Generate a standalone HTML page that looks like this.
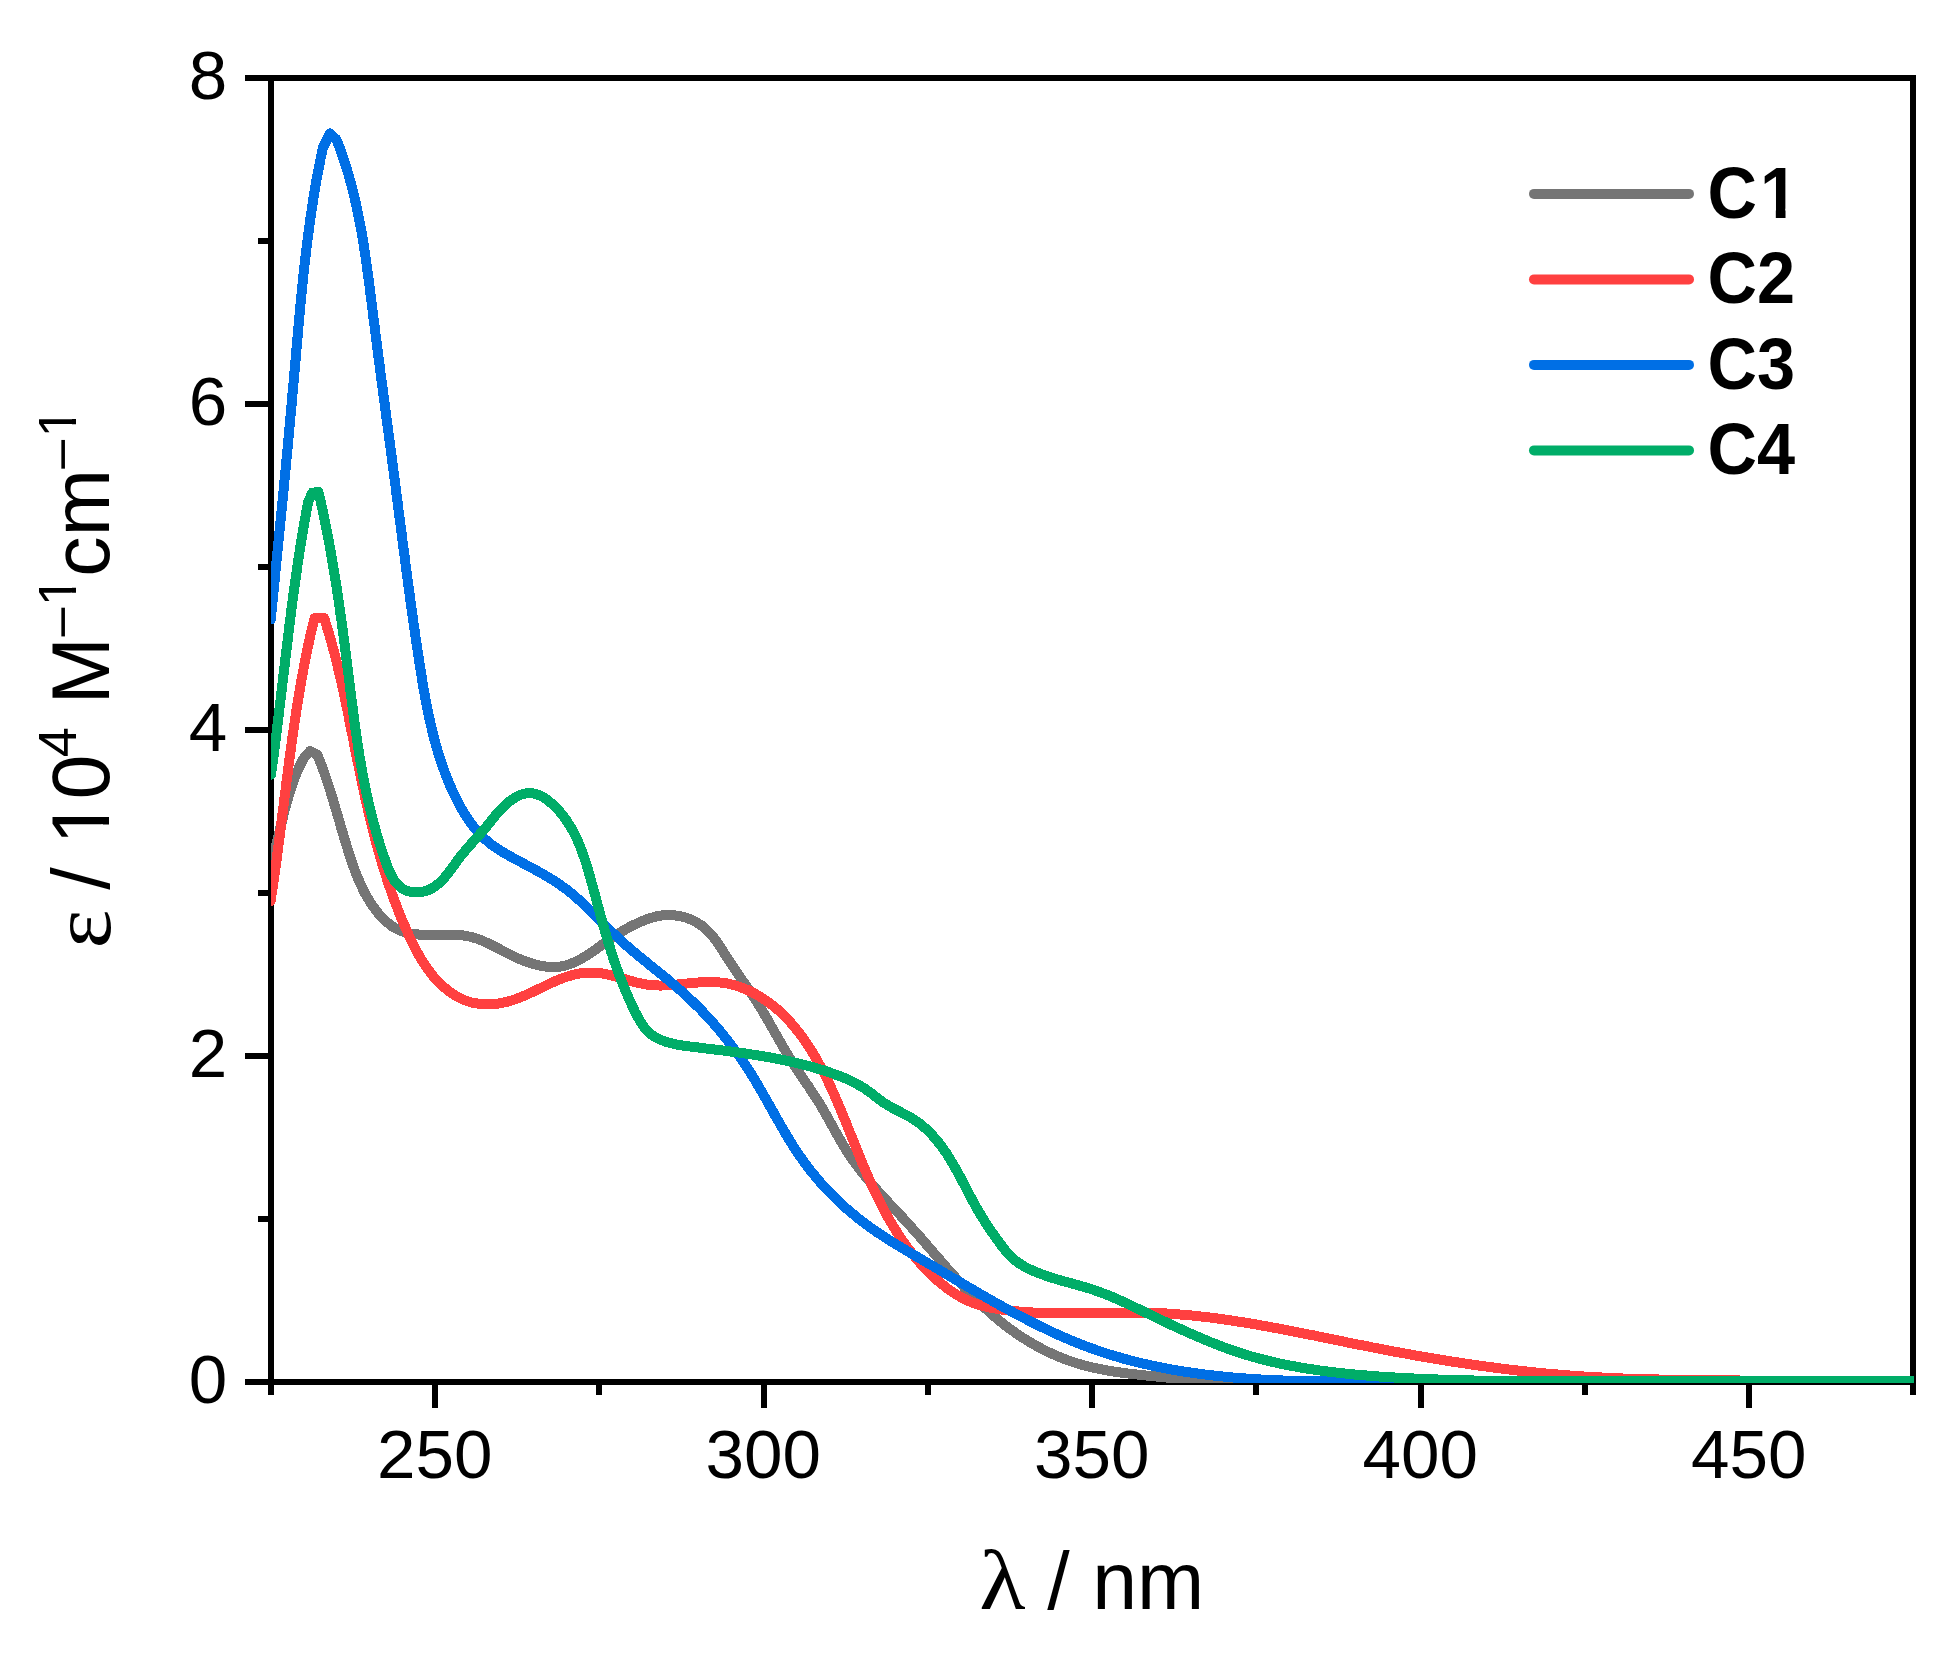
<!DOCTYPE html>
<html lang="en"><head><meta charset="utf-8"><title>UV-vis absorption spectra of C1-C4</title>
<style>html,body{margin:0;padding:0;background:#fff}body{width:1959px;height:1659px;overflow:hidden}svg{display:block}text{font-family:"Liberation Sans",Arial,Helvetica,sans-serif;fill:#000}.tk{font-size:69.2px}.ti{font-size:80.7px}.su{font-size:54px}.lg{font-size:68.5px;font-weight:bold}.sy{font-family:"Liberation Serif","Times New Roman",serif}.cv{fill:none;stroke-width:10;stroke-linejoin:round;stroke-linecap:round}</style></head><body>
<svg width="1959" height="1659" viewBox="0 0 1959 1659">
<rect width="1959" height="1659" fill="#fff"/>
<defs><clipPath id="oneR"><rect x="-2" y="-80.70" width="80.70" height="73.09"/><rect x="20.14" y="-8.39" width="7.43" height="9.18"/></clipPath><clipPath id="oneS"><rect x="-2" y="-54.00" width="54.00" height="48.91"/><rect x="13.43" y="-5.62" width="5.07" height="6.14"/></clipPath><clipPath id="oneB"><rect x="-2" y="-68.50" width="68.50" height="60.17"/><rect x="15.84" y="-9.00" width="9.70" height="9.67"/></clipPath><clipPath id="plot"><rect x="270.9" y="78.0" width="1643.1" height="1304.9"/></clipPath></defs>
<g stroke="#000" stroke-width="6" fill="none" stroke-linecap="butt" shape-rendering="crispEdges">
<rect x="271.0" y="78.0" width="1642.0" height="1304.0"/>
<line x1="244.8" y1="1382.0" x2="271.0" y2="1382.0"/>
<line x1="257.6" y1="1219.0" x2="271.0" y2="1219.0"/>
<line x1="244.8" y1="1056.0" x2="271.0" y2="1056.0"/>
<line x1="257.6" y1="893.0" x2="271.0" y2="893.0"/>
<line x1="244.8" y1="730.0" x2="271.0" y2="730.0"/>
<line x1="257.6" y1="567.0" x2="271.0" y2="567.0"/>
<line x1="244.8" y1="404.0" x2="271.0" y2="404.0"/>
<line x1="257.6" y1="241.0" x2="271.0" y2="241.0"/>
<line x1="244.8" y1="78.0" x2="271.0" y2="78.0"/>
<line x1="270.8" y1="1382.0" x2="270.8" y2="1394.6"/>
<line x1="435.0" y1="1382.0" x2="435.0" y2="1407.6"/>
<line x1="599.2" y1="1382.0" x2="599.2" y2="1394.6"/>
<line x1="763.5" y1="1382.0" x2="763.5" y2="1407.6"/>
<line x1="927.8" y1="1382.0" x2="927.8" y2="1394.6"/>
<line x1="1092.0" y1="1382.0" x2="1092.0" y2="1407.6"/>
<line x1="1256.2" y1="1382.0" x2="1256.2" y2="1394.6"/>
<line x1="1420.5" y1="1382.0" x2="1420.5" y2="1407.6"/>
<line x1="1584.8" y1="1382.0" x2="1584.8" y2="1394.6"/>
<line x1="1749.0" y1="1382.0" x2="1749.0" y2="1407.6"/>
<line x1="1913.2" y1="1382.0" x2="1913.2" y2="1394.6"/>
</g>
<g clip-path="url(#plot)" shape-rendering="crispEdges">
<path class="cv" stroke="#757575" d="M271.0,864.0 L271.9,861.0 L272.7,858.0 L273.6,854.9 L274.4,851.9 L275.2,848.8 L275.9,845.8 L276.7,842.7 L277.4,839.7 L278.2,836.6 L278.9,833.5 L279.7,830.5 L280.4,827.4 L281.2,824.3 L281.9,821.3 L282.7,818.2 L283.4,815.1 L284.2,812.1 L285.0,809.0 L285.8,806.0 L286.6,803.0 L287.5,799.9 L288.4,796.9 L289.3,793.9 L290.2,790.9 L291.2,787.9 L292.2,784.9 L293.2,782.0 L294.3,779.0 L295.5,776.1 L296.6,773.2 L297.9,770.3 L299.1,767.4 L300.5,764.6 L301.9,761.7 L303.3,758.9 L310.0,751.0 L317.1,754.5 L318.3,757.3 L319.4,760.1 L320.5,762.9 L321.6,765.7 L322.7,768.5 L323.7,771.3 L324.7,774.2 L325.7,777.0 L326.7,779.9 L327.6,782.7 L328.6,785.6 L329.5,788.4 L330.4,791.3 L331.3,794.2 L332.2,797.1 L333.1,799.9 L333.9,802.8 L334.8,805.7 L335.6,808.6 L336.5,811.5 L337.3,814.4 L338.2,817.2 L339.0,820.1 L339.9,823.0 L340.7,825.9 L341.5,828.8 L342.4,831.7 L343.2,834.6 L344.1,837.5 L345.0,840.3 L345.8,843.2 L346.7,846.1 L347.6,849.0 L348.5,851.8 L349.5,854.7 L350.4,857.6 L351.4,860.4 L352.3,863.3 L353.3,866.1 L354.3,868.9 L355.4,871.8 L356.5,874.6 L357.6,877.4 L358.8,880.1 L360.0,882.9 L361.2,885.6 L362.5,888.3 L363.8,891.0 L365.2,893.7 L366.7,896.3 L368.2,898.9 L369.8,901.5 L371.4,904.0 L373.1,906.5 L374.9,909.0 L376.8,911.4 L378.7,913.8 L380.7,916.1 L382.8,918.3 L385.0,920.5 L387.3,922.5 L389.6,924.4 L392.0,926.2 L394.5,927.7 L397.0,929.1 L399.7,930.3 L402.4,931.4 L405.1,932.2 L407.9,933.0 L410.8,933.5 L413.7,934.0 L416.6,934.3 L419.6,934.6 L422.6,934.7 L425.7,934.8 L428.8,934.9 L431.9,934.9 L435.0,934.8 L438.1,934.8 L441.2,934.7 L444.3,934.7 L447.4,934.6 L450.5,934.7 L453.6,934.7 L456.6,934.9 L459.6,935.1 L462.6,935.4 L465.6,935.8 L468.5,936.4 L471.4,937.0 L474.2,937.8 L477.0,938.7 L479.8,939.7 L482.5,940.8 L485.2,942.0 L487.9,943.2 L490.6,944.5 L493.3,945.9 L496.0,947.2 L498.6,948.6 L501.3,950.0 L504.0,951.4 L506.7,952.8 L509.4,954.2 L512.2,955.6 L514.9,956.9 L517.7,958.2 L520.5,959.4 L523.3,960.5 L526.2,961.6 L529.0,962.6 L531.9,963.5 L534.7,964.4 L537.6,965.1 L540.5,965.7 L543.3,966.2 L546.2,966.6 L549.1,966.9 L551.9,967.0 L554.8,967.0 L557.6,966.8 L560.5,966.5 L563.3,965.9 L566.1,965.3 L568.9,964.4 L571.6,963.4 L574.4,962.3 L577.1,961.0 L579.8,959.6 L582.5,958.1 L585.2,956.4 L587.8,954.8 L590.5,953.0 L593.1,951.2 L595.7,949.4 L598.3,947.5 L600.9,945.7 L603.4,943.8 L606.0,942.0 L608.5,940.2 L611.0,938.4 L613.5,936.7 L616.0,935.1 L618.5,933.5 L621.0,931.9 L623.5,930.5 L626.0,929.0 L628.5,927.6 L631.1,926.3 L633.7,925.0 L636.4,923.7 L639.1,922.5 L641.9,921.3 L644.7,920.1 L647.5,919.0 L650.4,918.0 L653.4,917.2 L656.3,916.4 L659.3,915.8 L662.3,915.4 L665.4,915.2 L668.4,915.1 L671.4,915.1 L674.4,915.4 L677.4,915.7 L680.3,916.2 L683.2,916.9 L686.1,917.7 L688.9,918.7 L691.6,919.8 L694.3,921.1 L696.9,922.5 L699.4,924.1 L701.8,925.7 L704.1,927.6 L706.3,929.5 L708.4,931.6 L710.4,933.8 L712.4,936.1 L714.3,938.4 L716.1,940.9 L717.9,943.4 L719.6,945.9 L721.3,948.5 L723.0,951.1 L724.6,953.7 L726.3,956.3 L727.9,958.9 L729.6,961.5 L731.3,964.1 L733.0,966.6 L734.7,969.1 L736.3,971.6 L738.0,974.1 L739.7,976.6 L741.4,979.0 L743.1,981.5 L744.8,983.9 L746.5,986.4 L748.2,988.9 L749.9,991.3 L751.5,993.8 L753.2,996.3 L754.8,998.7 L756.4,1001.2 L758.0,1003.8 L759.6,1006.3 L761.2,1008.9 L762.7,1011.4 L764.2,1014.0 L765.8,1016.6 L767.3,1019.2 L768.8,1021.8 L770.3,1024.5 L771.8,1027.1 L773.3,1029.7 L774.8,1032.4 L776.3,1035.0 L777.8,1037.6 L779.3,1040.3 L780.8,1042.9 L782.3,1045.5 L783.8,1048.1 L785.3,1050.8 L786.9,1053.3 L788.5,1055.9 L790.0,1058.5 L791.6,1061.0 L793.2,1063.6 L794.9,1066.1 L796.5,1068.6 L798.2,1071.1 L799.8,1073.6 L801.5,1076.1 L803.2,1078.6 L804.8,1081.0 L806.5,1083.5 L808.2,1086.0 L809.8,1088.5 L811.5,1091.0 L813.1,1093.5 L814.8,1096.0 L816.4,1098.5 L818.0,1101.0 L819.6,1103.6 L821.1,1106.2 L822.7,1108.8 L824.2,1111.4 L825.7,1114.0 L827.2,1116.7 L828.7,1119.3 L830.1,1122.0 L831.6,1124.6 L833.1,1127.3 L834.5,1129.9 L836.0,1132.6 L837.5,1135.3 L839.0,1137.9 L840.5,1140.5 L842.0,1143.1 L843.6,1145.7 L845.1,1148.3 L846.7,1150.9 L848.4,1153.4 L850.0,1155.9 L851.7,1158.4 L853.4,1160.8 L855.2,1163.2 L857.0,1165.7 L858.8,1168.0 L860.6,1170.4 L862.4,1172.7 L864.3,1175.1 L866.2,1177.4 L868.1,1179.7 L870.0,1182.0 L872.0,1184.2 L873.9,1186.5 L875.9,1188.7 L877.9,1191.0 L879.9,1193.2 L881.9,1195.4 L883.9,1197.6 L886.0,1199.8 L888.0,1202.0 L890.0,1204.2 L892.1,1206.4 L894.1,1208.6 L896.2,1210.8 L898.2,1213.0 L900.3,1215.2 L902.4,1217.4 L904.4,1219.7 L906.4,1221.9 L908.5,1224.1 L910.5,1226.3 L912.5,1228.6 L914.5,1230.8 L916.6,1233.1 L918.6,1235.3 L920.6,1237.6 L922.5,1239.9 L924.5,1242.2 L926.5,1244.5 L928.5,1246.7 L930.5,1249.0 L932.5,1251.3 L934.4,1253.6 L936.4,1255.9 L938.4,1258.2 L940.4,1260.5 L942.4,1262.8 L944.4,1265.1 L946.3,1267.3 L948.3,1269.6 L950.3,1271.9 L952.3,1274.1 L954.4,1276.4 L956.4,1278.6 L958.4,1280.9 L960.4,1283.1 L962.5,1285.3 L964.5,1287.5 L966.6,1289.7 L968.7,1291.9 L970.8,1294.1 L972.9,1296.2 L975.0,1298.4 L977.1,1300.5 L979.2,1302.6 L981.4,1304.7 L983.6,1306.7 L985.8,1308.8 L988.0,1310.8 L990.2,1312.8 L992.4,1314.8 L994.7,1316.7 L997.0,1318.7 L999.3,1320.6 L1001.6,1322.5 L1004.0,1324.3 L1006.3,1326.2 L1008.7,1328.0 L1011.1,1329.8 L1013.6,1331.5 L1016.0,1333.2 L1018.5,1334.9 L1021.0,1336.6 L1023.5,1338.2 L1026.0,1339.8 L1028.6,1341.4 L1031.2,1342.9 L1033.8,1344.4 L1036.4,1345.9 L1039.0,1347.3 L1041.7,1348.7 L1044.3,1350.1 L1047.0,1351.4 L1049.7,1352.7 L1052.4,1354.0 L1055.2,1355.2 L1057.9,1356.4 L1060.7,1357.5 L1063.5,1358.6 L1066.3,1359.7 L1069.1,1360.7 L1071.9,1361.7 L1074.8,1362.6 L1077.7,1363.5 L1080.5,1364.4 L1083.4,1365.2 L1086.3,1366.0 L1089.2,1366.7 L1092.2,1367.4 L1095.1,1368.1 L1098.0,1368.7 L1101.0,1369.3 L1104.0,1369.8 L1106.9,1370.4 L1109.9,1370.9 L1112.9,1371.4 L1115.9,1371.8 L1118.9,1372.3 L1121.9,1372.7 L1124.9,1373.1 L1127.9,1373.5 L1130.9,1373.8 L1133.9,1374.2 L1137.0,1374.5 L1140.0,1374.9 L1143.0,1375.2 L1146.0,1375.5 L1149.0,1375.8 L1152.0,1376.1 L1155.0,1376.4 L1158.0,1376.7 L1161.0,1377.0 L1164.0,1377.3 L1167.0,1377.6 L1170.0,1377.9 L1173.0,1378.2 L1176.0,1378.5 L1178.9,1378.8 L1181.9,1379.1 L1184.9,1379.4 L1187.9,1379.6 L1190.8,1379.9 L1193.8,1380.1 L1196.8,1380.4 L1199.8,1380.6 L1202.8,1380.8 L1205.7,1381.0 L1208.7,1381.2 L1211.7,1381.4 L1214.7,1381.5 L1217.7,1381.7 L1220.7,1381.8 L1223.7,1381.9 L1226.7,1382.0 L1229.7,1382.0 L1232.7,1382.1 L1235.7,1382.1 L1238.7,1382.1 L1241.7,1382.0 L1244.8,1382.0 L1247.8,1381.9 L1250.8,1381.8 L1253.9,1381.7 L1256.9,1381.5 L1260.0,1381.3 L1916.0,1381.3"/>
<path class="cv" stroke="#ff4040" d="M270.6,901.0 L271.1,898.0 L271.5,895.0 L272.0,892.0 L272.4,889.0 L272.9,886.0 L273.3,883.0 L273.8,880.0 L274.2,877.0 L274.6,873.9 L275.0,870.9 L275.5,867.9 L275.9,864.9 L276.3,861.9 L276.7,858.9 L277.1,855.9 L277.5,852.9 L277.9,849.8 L278.3,846.8 L278.7,843.8 L279.1,840.8 L279.5,837.8 L279.9,834.8 L280.2,831.7 L280.6,828.7 L281.0,825.7 L281.4,822.7 L281.8,819.7 L282.1,816.7 L282.5,813.6 L282.9,810.6 L283.3,807.6 L283.7,804.6 L284.0,801.6 L284.4,798.5 L284.8,795.5 L285.2,792.5 L285.6,789.5 L285.9,786.5 L286.3,783.4 L286.7,780.4 L287.1,777.4 L287.5,774.4 L287.9,771.4 L288.3,768.4 L288.6,765.3 L289.0,762.3 L289.4,759.3 L289.8,756.3 L290.2,753.3 L290.7,750.3 L291.1,747.2 L291.5,744.2 L291.9,741.2 L292.3,738.2 L292.7,735.2 L293.2,732.2 L293.6,729.2 L294.0,726.2 L294.5,723.2 L294.9,720.2 L295.4,717.2 L295.8,714.2 L296.3,711.1 L296.8,708.1 L297.2,705.1 L297.7,702.1 L298.2,699.1 L298.7,696.1 L299.2,693.1 L299.7,690.2 L300.2,687.2 L300.7,684.2 L301.3,681.2 L301.8,678.2 L302.3,675.2 L302.9,672.2 L303.5,669.2 L304.0,666.2 L304.6,663.3 L305.2,660.3 L305.8,657.3 L306.4,654.3 L307.0,651.3 L307.6,648.4 L308.2,645.4 L308.9,642.4 L309.5,639.5 L310.2,636.5 L310.8,633.5 L311.5,630.6 L312.2,627.6 L314.6,618.2 L324.2,618.2 L325.1,621.1 L326.0,623.9 L326.9,626.8 L327.8,629.7 L328.7,632.5 L329.5,635.4 L330.3,638.3 L331.2,641.2 L332.0,644.1 L332.7,647.0 L333.5,649.9 L334.3,652.8 L335.0,655.7 L335.8,658.6 L336.5,661.5 L337.2,664.4 L337.9,667.3 L338.6,670.3 L339.3,673.2 L340.0,676.1 L340.7,679.0 L341.3,682.0 L342.0,684.9 L342.6,687.8 L343.3,690.8 L343.9,693.7 L344.5,696.6 L345.1,699.6 L345.7,702.5 L346.4,705.5 L347.0,708.4 L347.6,711.3 L348.2,714.3 L348.8,717.2 L349.3,720.2 L349.9,723.1 L350.5,726.1 L351.1,729.0 L351.7,732.0 L352.3,734.9 L352.9,737.9 L353.5,740.8 L354.1,743.8 L354.6,746.7 L355.2,749.7 L355.8,752.6 L356.4,755.6 L357.0,758.5 L357.6,761.5 L358.2,764.4 L358.8,767.4 L359.4,770.3 L360.0,773.3 L360.6,776.2 L361.2,779.2 L361.9,782.1 L362.5,785.1 L363.1,788.0 L363.8,790.9 L364.4,793.9 L365.0,796.8 L365.7,799.7 L366.4,802.7 L367.0,805.6 L367.7,808.5 L368.4,811.5 L369.1,814.4 L369.7,817.3 L370.4,820.2 L371.2,823.1 L371.9,826.1 L372.6,829.0 L373.3,831.9 L374.1,834.8 L374.8,837.7 L375.6,840.6 L376.4,843.5 L377.2,846.4 L378.0,849.3 L378.8,852.1 L379.6,855.0 L380.4,857.9 L381.3,860.8 L382.1,863.7 L383.0,866.5 L383.9,869.4 L384.7,872.3 L385.7,875.1 L386.6,878.0 L387.5,880.8 L388.5,883.7 L389.4,886.5 L390.4,889.3 L391.4,892.2 L392.4,895.0 L393.4,897.8 L394.5,900.6 L395.5,903.4 L396.6,906.2 L397.7,909.0 L398.8,911.8 L399.9,914.6 L401.0,917.4 L402.2,920.2 L403.4,923.0 L404.6,925.7 L405.8,928.5 L407.0,931.2 L408.2,934.0 L409.5,936.7 L410.8,939.5 L412.1,942.2 L413.5,944.9 L414.8,947.6 L416.2,950.3 L417.7,953.0 L419.1,955.6 L420.7,958.2 L422.2,960.8 L423.8,963.4 L425.5,965.9 L427.2,968.4 L429.0,970.8 L430.8,973.2 L432.7,975.6 L434.6,977.9 L436.7,980.1 L438.8,982.3 L440.9,984.4 L443.2,986.5 L445.5,988.5 L447.8,990.4 L450.2,992.2 L452.7,993.9 L455.2,995.5 L457.8,997.0 L460.5,998.4 L463.1,999.6 L465.9,1000.6 L468.6,1001.6 L471.4,1002.4 L474.3,1003.0 L477.2,1003.5 L480.1,1003.9 L483.0,1004.2 L485.9,1004.3 L488.9,1004.3 L491.8,1004.2 L494.8,1003.9 L497.7,1003.6 L500.7,1003.1 L503.7,1002.5 L506.6,1001.9 L509.5,1001.1 L512.4,1000.2 L515.3,999.3 L518.1,998.2 L521.0,997.1 L523.8,995.9 L526.6,994.7 L529.4,993.4 L532.2,992.1 L535.0,990.8 L537.8,989.4 L540.5,988.1 L543.3,986.7 L546.1,985.4 L548.9,984.1 L551.7,982.8 L554.5,981.5 L557.3,980.3 L560.1,979.2 L562.9,978.1 L565.8,977.1 L568.7,976.2 L571.5,975.3 L574.4,974.6 L577.3,974.0 L580.3,973.4 L583.2,973.0 L586.1,972.7 L589.0,972.6 L592.0,972.5 L594.9,972.6 L597.8,972.9 L600.7,973.2 L603.6,973.7 L606.5,974.2 L609.3,974.9 L612.2,975.6 L615.1,976.4 L618.0,977.2 L620.9,978.0 L623.8,978.9 L626.7,979.7 L629.6,980.6 L632.5,981.4 L635.4,982.2 L638.3,982.9 L641.2,983.5 L644.1,984.1 L647.1,984.6 L650.1,985.0 L653.0,985.2 L656.0,985.4 L659.0,985.5 L662.0,985.5 L665.0,985.4 L668.1,985.2 L671.1,985.1 L674.1,984.8 L677.2,984.5 L680.2,984.3 L683.2,983.9 L686.3,983.6 L689.3,983.3 L692.3,983.0 L695.3,982.7 L698.4,982.5 L701.4,982.3 L704.4,982.1 L707.4,982.0 L710.3,982.0 L713.3,982.0 L716.3,982.1 L719.2,982.4 L722.1,982.7 L725.0,983.1 L727.9,983.6 L730.8,984.3 L733.6,985.0 L736.5,985.8 L739.3,986.7 L742.0,987.8 L744.8,988.8 L747.5,990.0 L750.2,991.3 L752.9,992.6 L755.5,994.0 L758.1,995.5 L760.6,997.0 L763.1,998.6 L765.6,1000.3 L768.1,1002.0 L770.5,1003.8 L772.8,1005.6 L775.1,1007.5 L777.4,1009.4 L779.6,1011.4 L781.8,1013.4 L783.9,1015.5 L786.0,1017.6 L788.1,1019.8 L790.1,1022.0 L792.1,1024.2 L794.0,1026.5 L795.9,1028.8 L797.8,1031.1 L799.6,1033.5 L801.4,1035.9 L803.2,1038.4 L805.0,1040.8 L806.7,1043.3 L808.3,1045.8 L810.0,1048.4 L811.6,1051.0 L813.2,1053.6 L814.7,1056.2 L816.3,1058.8 L817.8,1061.5 L819.2,1064.1 L820.7,1066.8 L822.1,1069.5 L823.5,1072.2 L824.9,1075.0 L826.3,1077.7 L827.6,1080.4 L828.9,1083.2 L830.2,1085.9 L831.5,1088.7 L832.8,1091.5 L834.0,1094.2 L835.2,1097.0 L836.4,1099.8 L837.6,1102.5 L838.8,1105.3 L840.0,1108.1 L841.2,1110.8 L842.3,1113.6 L843.4,1116.4 L844.6,1119.2 L845.7,1121.9 L846.8,1124.7 L847.9,1127.5 L849.0,1130.2 L850.1,1133.0 L851.3,1135.8 L852.4,1138.5 L853.5,1141.3 L854.6,1144.1 L855.7,1146.8 L856.8,1149.6 L857.9,1152.4 L859.0,1155.1 L860.1,1157.9 L861.2,1160.6 L862.4,1163.4 L863.5,1166.1 L864.7,1168.9 L865.8,1171.6 L867.0,1174.4 L868.2,1177.1 L869.4,1179.8 L870.6,1182.6 L871.9,1185.3 L873.1,1188.0 L874.4,1190.7 L875.7,1193.4 L877.0,1196.1 L878.3,1198.8 L879.6,1201.5 L881.0,1204.2 L882.4,1206.9 L883.8,1209.5 L885.2,1212.2 L886.7,1214.8 L888.1,1217.5 L889.6,1220.1 L891.1,1222.7 L892.7,1225.2 L894.2,1227.8 L895.8,1230.4 L897.4,1232.9 L899.1,1235.4 L900.7,1237.9 L902.4,1240.4 L904.2,1242.9 L905.9,1245.3 L907.7,1247.8 L909.5,1250.2 L911.4,1252.5 L913.2,1254.9 L915.1,1257.2 L917.1,1259.6 L919.0,1261.8 L921.0,1264.1 L923.1,1266.4 L925.2,1268.6 L927.3,1270.7 L929.4,1272.9 L931.6,1275.0 L933.8,1277.1 L936.0,1279.2 L938.3,1281.2 L940.6,1283.2 L943.0,1285.1 L945.4,1287.0 L947.8,1288.8 L950.3,1290.6 L952.8,1292.3 L955.3,1293.9 L957.8,1295.4 L960.4,1296.9 L963.1,1298.3 L965.7,1299.7 L968.4,1300.9 L971.2,1302.1 L973.9,1303.1 L976.7,1304.1 L979.6,1305.0 L982.4,1305.8 L985.3,1306.5 L988.2,1307.2 L991.1,1307.8 L994.0,1308.3 L997.0,1308.8 L999.9,1309.3 L1002.9,1309.7 L1005.8,1310.1 L1008.8,1310.5 L1011.8,1310.8 L1014.7,1311.1 L1017.7,1311.4 L1020.7,1311.7 L1023.7,1311.9 L1026.6,1312.1 L1029.6,1312.3 L1032.6,1312.5 L1035.6,1312.6 L1038.6,1312.8 L1041.6,1312.9 L1044.6,1313.0 L1047.6,1313.1 L1050.6,1313.1 L1053.6,1313.2 L1056.6,1313.2 L1059.6,1313.2 L1062.6,1313.2 L1065.6,1313.2 L1068.7,1313.2 L1071.7,1313.2 L1074.7,1313.2 L1077.7,1313.2 L1080.7,1313.1 L1083.7,1313.1 L1086.8,1313.0 L1089.8,1313.0 L1092.8,1312.9 L1095.8,1312.9 L1098.8,1312.8 L1101.9,1312.8 L1104.9,1312.7 L1107.9,1312.7 L1110.9,1312.6 L1113.9,1312.6 L1117.0,1312.5 L1120.0,1312.5 L1123.0,1312.5 L1126.0,1312.5 L1129.0,1312.5 L1132.0,1312.5 L1135.1,1312.5 L1138.1,1312.5 L1141.1,1312.5 L1144.1,1312.6 L1147.1,1312.7 L1150.1,1312.8 L1153.1,1312.9 L1156.1,1313.0 L1159.1,1313.1 L1162.1,1313.2 L1165.1,1313.4 L1168.1,1313.6 L1171.1,1313.8 L1174.1,1314.0 L1177.1,1314.2 L1180.1,1314.5 L1183.1,1314.7 L1186.1,1315.0 L1189.0,1315.2 L1192.0,1315.5 L1195.0,1315.8 L1198.0,1316.2 L1201.0,1316.5 L1203.9,1316.8 L1206.9,1317.2 L1209.9,1317.5 L1212.9,1317.9 L1215.8,1318.3 L1218.8,1318.7 L1221.8,1319.1 L1224.8,1319.5 L1227.7,1320.0 L1230.7,1320.4 L1233.7,1320.8 L1236.6,1321.3 L1239.6,1321.8 L1242.6,1322.2 L1245.5,1322.7 L1248.5,1323.2 L1251.4,1323.7 L1254.4,1324.2 L1257.4,1324.7 L1260.3,1325.2 L1263.3,1325.8 L1266.2,1326.3 L1269.2,1326.8 L1272.2,1327.4 L1275.1,1327.9 L1278.1,1328.5 L1281.0,1329.0 L1284.0,1329.6 L1286.9,1330.2 L1289.9,1330.7 L1292.8,1331.3 L1295.8,1331.9 L1298.7,1332.5 L1301.7,1333.1 L1304.6,1333.7 L1307.6,1334.3 L1310.5,1334.9 L1313.5,1335.4 L1316.5,1336.0 L1319.4,1336.6 L1322.4,1337.2 L1325.3,1337.8 L1328.3,1338.5 L1331.2,1339.1 L1334.2,1339.7 L1337.1,1340.3 L1340.1,1340.9 L1343.0,1341.5 L1346.0,1342.1 L1348.9,1342.7 L1351.9,1343.3 L1354.8,1343.9 L1357.8,1344.5 L1360.7,1345.1 L1363.7,1345.6 L1366.6,1346.2 L1369.6,1346.8 L1372.5,1347.4 L1375.5,1348.0 L1378.4,1348.5 L1381.4,1349.1 L1384.3,1349.7 L1387.3,1350.2 L1390.2,1350.8 L1393.2,1351.4 L1396.2,1351.9 L1399.1,1352.5 L1402.1,1353.0 L1405.0,1353.5 L1408.0,1354.1 L1410.9,1354.6 L1413.9,1355.1 L1416.9,1355.7 L1419.8,1356.2 L1422.8,1356.7 L1425.7,1357.2 L1428.7,1357.7 L1431.7,1358.2 L1434.6,1358.7 L1437.6,1359.2 L1440.6,1359.7 L1443.5,1360.2 L1446.5,1360.6 L1449.5,1361.1 L1452.4,1361.6 L1455.4,1362.0 L1458.4,1362.5 L1461.3,1363.0 L1464.3,1363.4 L1467.3,1363.8 L1470.2,1364.3 L1473.2,1364.7 L1476.2,1365.1 L1479.1,1365.6 L1482.1,1366.0 L1485.1,1366.4 L1488.1,1366.8 L1491.0,1367.2 L1494.0,1367.6 L1497.0,1368.0 L1500.0,1368.4 L1502.9,1368.7 L1505.9,1369.1 L1508.9,1369.5 L1511.9,1369.8 L1514.9,1370.2 L1517.8,1370.5 L1520.8,1370.9 L1523.8,1371.2 L1526.8,1371.5 L1529.8,1371.8 L1532.7,1372.2 L1535.7,1372.5 L1538.7,1372.8 L1541.7,1373.1 L1544.7,1373.4 L1547.7,1373.6 L1550.7,1373.9 L1553.7,1374.2 L1556.6,1374.4 L1559.6,1374.7 L1562.6,1374.9 L1565.6,1375.2 L1568.6,1375.4 L1571.6,1375.6 L1574.6,1375.9 L1577.6,1376.1 L1580.6,1376.3 L1583.6,1376.5 L1586.6,1376.7 L1589.6,1376.9 L1592.6,1377.0 L1595.6,1377.2 L1598.6,1377.4 L1601.6,1377.5 L1604.6,1377.7 L1607.6,1377.8 L1610.6,1378.0 L1613.6,1378.1 L1616.6,1378.2 L1619.6,1378.3 L1622.6,1378.5 L1625.6,1378.6 L1628.6,1378.7 L1631.6,1378.8 L1634.6,1378.9 L1637.7,1379.0 L1640.7,1379.1 L1643.7,1379.1 L1646.7,1379.2 L1649.7,1379.3 L1652.7,1379.4 L1655.7,1379.4 L1658.7,1379.5 L1661.7,1379.6 L1664.7,1379.6 L1667.8,1379.7 L1670.8,1379.7 L1673.8,1379.8 L1676.8,1379.8 L1679.8,1379.9 L1682.8,1379.9 L1685.8,1379.9 L1688.8,1380.0 L1691.8,1380.0 L1694.9,1380.1 L1697.9,1380.1 L1700.9,1380.1 L1703.9,1380.1 L1706.9,1380.2 L1709.9,1380.2 L1712.9,1380.2 L1715.9,1380.3 L1718.9,1380.3 L1721.9,1380.3 L1725.0,1380.3 L1728.0,1380.4 L1731.0,1380.4 L1734.0,1380.4 L1737.0,1380.4 L1740.0,1380.5 L1743.0,1380.5 L1746.0,1380.5 L1749.0,1380.5 L1752.0,1380.6 L1755.0,1380.6 L1758.0,1380.6 L1761.0,1380.7 L1764.0,1380.7 L1767.0,1380.7 L1770.0,1380.8 L1773.0,1380.8 L1776.0,1380.9 L1779.0,1380.9 L1782.0,1380.9 L1785.0,1381.0 L1788.0,1381.1 L1791.0,1381.1 L1794.0,1381.2 L1797.0,1381.2 L1800.0,1381.3 L1916.0,1381.3"/>
<path class="cv" stroke="#006fe5" d="M270.7,619.5 L271.0,616.5 L271.3,613.5 L271.6,610.5 L271.9,607.5 L272.2,604.4 L272.5,601.4 L272.8,598.4 L273.1,595.4 L273.4,592.4 L273.7,589.4 L274.0,586.4 L274.3,583.4 L274.6,580.4 L274.9,577.4 L275.2,574.4 L275.5,571.3 L275.8,568.3 L276.1,565.3 L276.4,562.3 L276.7,559.3 L277.0,556.3 L277.3,553.3 L277.6,550.3 L277.9,547.3 L278.2,544.3 L278.5,541.3 L278.8,538.2 L279.1,535.2 L279.4,532.2 L279.7,529.2 L280.0,526.2 L280.3,523.2 L280.6,520.2 L280.9,517.2 L281.2,514.2 L281.5,511.2 L281.8,508.2 L282.1,505.2 L282.4,502.1 L282.7,499.1 L283.0,496.1 L283.3,493.1 L283.6,490.1 L283.8,487.1 L284.1,484.1 L284.4,481.1 L284.7,478.1 L285.0,475.1 L285.3,472.1 L285.6,469.0 L285.9,466.0 L286.2,463.0 L286.4,460.0 L286.7,457.0 L287.0,454.0 L287.3,451.0 L287.6,448.0 L287.9,445.0 L288.1,442.0 L288.4,438.9 L288.7,435.9 L289.0,432.9 L289.3,429.9 L289.5,426.9 L289.8,423.9 L290.1,420.9 L290.4,417.9 L290.6,414.9 L290.9,411.8 L291.2,408.8 L291.5,405.8 L291.7,402.8 L292.0,399.8 L292.3,396.8 L292.5,393.8 L292.8,390.7 L293.1,387.7 L293.4,384.7 L293.6,381.7 L293.9,378.7 L294.1,375.7 L294.4,372.7 L294.7,369.6 L294.9,366.6 L295.2,363.6 L295.5,360.6 L295.7,357.6 L296.0,354.6 L296.2,351.5 L296.5,348.5 L296.8,345.5 L297.0,342.5 L297.3,339.5 L297.6,336.5 L297.8,333.4 L298.1,330.4 L298.4,327.4 L298.6,324.4 L298.9,321.4 L299.2,318.4 L299.5,315.4 L299.7,312.3 L300.0,309.3 L300.3,306.3 L300.6,303.3 L300.9,300.3 L301.2,297.3 L301.5,294.3 L301.8,291.3 L302.1,288.3 L302.4,285.2 L302.7,282.2 L303.0,279.2 L303.3,276.2 L303.6,273.2 L304.0,270.2 L304.3,267.2 L304.6,264.2 L305.0,261.2 L305.3,258.2 L305.7,255.2 L306.0,252.2 L306.4,249.2 L306.7,246.2 L307.1,243.2 L307.5,240.2 L307.9,237.2 L308.3,234.2 L308.7,231.2 L309.1,228.2 L309.5,225.2 L309.9,222.2 L310.3,219.3 L310.7,216.3 L311.2,213.3 L311.6,210.3 L312.0,207.3 L312.5,204.3 L313.0,201.4 L313.4,198.4 L313.9,195.4 L314.4,192.4 L314.9,189.5 L315.4,186.5 L315.9,183.5 L316.4,180.5 L317.0,177.6 L317.5,174.6 L318.1,171.6 L318.6,168.7 L319.2,165.7 L319.8,162.8 L320.4,159.8 L320.9,156.9 L321.6,153.9 L322.2,150.9 L322.8,148.0 L329.9,133.3 L336.5,139.5 L337.6,142.3 L338.7,145.1 L339.7,147.9 L340.8,150.7 L341.8,153.6 L342.7,156.4 L343.7,159.2 L344.6,162.1 L345.6,164.9 L346.4,167.8 L347.3,170.7 L348.2,173.5 L349.0,176.4 L349.8,179.3 L350.6,182.2 L351.4,185.0 L352.1,187.9 L352.9,190.8 L353.6,193.7 L354.3,196.6 L354.9,199.5 L355.6,202.5 L356.3,205.4 L356.9,208.3 L357.5,211.2 L358.1,214.2 L358.7,217.1 L359.3,220.0 L359.9,223.0 L360.4,225.9 L360.9,228.9 L361.5,231.8 L362.0,234.8 L362.5,237.7 L363.0,240.7 L363.5,243.7 L363.9,246.6 L364.4,249.6 L364.9,252.6 L365.3,255.5 L365.7,258.5 L366.2,261.5 L366.6,264.5 L367.0,267.5 L367.4,270.4 L367.8,273.4 L368.2,276.4 L368.6,279.4 L369.0,282.4 L369.4,285.4 L369.8,288.3 L370.2,291.3 L370.5,294.3 L370.9,297.3 L371.3,300.3 L371.7,303.3 L372.0,306.3 L372.4,309.3 L372.8,312.3 L373.2,315.3 L373.5,318.3 L373.9,321.2 L374.3,324.2 L374.7,327.2 L375.0,330.2 L375.4,333.2 L375.8,336.2 L376.2,339.2 L376.6,342.2 L376.9,345.1 L377.3,348.1 L377.7,351.1 L378.1,354.1 L378.5,357.1 L378.9,360.1 L379.3,363.1 L379.7,366.0 L380.0,369.0 L380.4,372.0 L380.8,375.0 L381.2,378.0 L381.6,381.0 L382.0,383.9 L382.4,386.9 L382.8,389.9 L383.2,392.9 L383.6,395.9 L384.0,398.9 L384.4,401.8 L384.8,404.8 L385.1,407.8 L385.5,410.8 L385.9,413.8 L386.3,416.7 L386.7,419.7 L387.1,422.7 L387.5,425.7 L387.9,428.6 L388.3,431.6 L388.7,434.6 L389.1,437.6 L389.5,440.6 L389.9,443.5 L390.3,446.5 L390.7,449.5 L391.1,452.5 L391.5,455.4 L391.9,458.4 L392.2,461.4 L392.6,464.4 L393.0,467.3 L393.4,470.3 L393.8,473.3 L394.2,476.3 L394.6,479.2 L395.0,482.2 L395.4,485.2 L395.7,488.2 L396.1,491.1 L396.5,494.1 L396.9,497.1 L397.3,500.1 L397.7,503.0 L398.1,506.0 L398.4,509.0 L398.8,511.9 L399.2,514.9 L399.6,517.9 L400.0,520.9 L400.4,523.8 L400.7,526.8 L401.1,529.8 L401.5,532.8 L401.9,535.7 L402.3,538.7 L402.6,541.7 L403.0,544.6 L403.4,547.6 L403.8,550.6 L404.2,553.6 L404.6,556.5 L405.0,559.5 L405.3,562.5 L405.7,565.5 L406.1,568.4 L406.5,571.4 L406.9,574.4 L407.3,577.4 L407.7,580.3 L408.1,583.3 L408.5,586.3 L408.9,589.3 L409.3,592.2 L409.7,595.2 L410.1,598.2 L410.5,601.2 L410.9,604.1 L411.3,607.1 L411.7,610.1 L412.1,613.1 L412.6,616.1 L413.0,619.0 L413.4,622.0 L413.8,625.0 L414.3,628.0 L414.7,631.0 L415.1,633.9 L415.5,636.9 L416.0,639.9 L416.4,642.9 L416.9,645.9 L417.3,648.8 L417.8,651.8 L418.2,654.8 L418.7,657.8 L419.1,660.8 L419.6,663.8 L420.0,666.8 L420.5,669.7 L421.0,672.7 L421.5,675.7 L421.9,678.7 L422.4,681.7 L422.9,684.7 L423.4,687.6 L424.0,690.6 L424.5,693.6 L425.0,696.6 L425.6,699.5 L426.1,702.5 L426.7,705.5 L427.3,708.4 L427.9,711.4 L428.5,714.3 L429.1,717.3 L429.8,720.2 L430.4,723.2 L431.1,726.1 L431.8,729.0 L432.5,732.0 L433.2,734.9 L434.0,737.8 L434.7,740.7 L435.5,743.6 L436.3,746.5 L437.2,749.4 L438.0,752.2 L438.9,755.1 L439.8,758.0 L440.7,760.8 L441.7,763.7 L442.7,766.5 L443.7,769.3 L444.7,772.1 L445.8,774.9 L446.9,777.7 L448.0,780.5 L449.1,783.3 L450.3,786.0 L451.5,788.8 L452.8,791.5 L454.0,794.2 L455.3,796.9 L456.7,799.6 L458.1,802.3 L459.5,805.0 L460.9,807.6 L462.4,810.2 L464.0,812.8 L465.5,815.3 L467.2,817.9 L468.8,820.3 L470.6,822.8 L472.3,825.1 L474.2,827.5 L476.0,829.8 L478.0,832.0 L480.0,834.2 L482.0,836.3 L484.1,838.3 L486.3,840.3 L488.5,842.2 L490.8,844.0 L493.2,845.8 L495.6,847.5 L498.1,849.1 L500.6,850.7 L503.1,852.3 L505.7,853.8 L508.3,855.3 L510.9,856.7 L513.6,858.2 L516.2,859.6 L518.9,861.0 L521.6,862.4 L524.2,863.9 L526.9,865.3 L529.6,866.7 L532.2,868.1 L534.9,869.6 L537.5,871.0 L540.1,872.5 L542.8,874.0 L545.4,875.5 L547.9,877.0 L550.5,878.6 L553.1,880.2 L555.6,881.8 L558.1,883.5 L560.5,885.1 L563.0,886.9 L565.4,888.6 L567.8,890.4 L570.1,892.3 L572.4,894.2 L574.7,896.1 L577.0,898.1 L579.2,900.1 L581.4,902.1 L583.6,904.1 L585.8,906.2 L588.0,908.2 L590.2,910.3 L592.3,912.5 L594.4,914.6 L596.6,916.7 L598.7,918.8 L600.8,921.0 L603.0,923.1 L605.1,925.3 L607.2,927.4 L609.4,929.5 L611.5,931.6 L613.7,933.8 L615.9,935.8 L618.0,937.9 L620.2,940.0 L622.5,942.0 L624.7,944.0 L627.0,946.0 L629.2,948.0 L631.5,949.9 L633.8,951.9 L636.1,953.8 L638.4,955.7 L640.7,957.6 L643.1,959.6 L645.4,961.4 L647.7,963.3 L650.1,965.2 L652.4,967.1 L654.7,969.0 L657.1,970.9 L659.4,972.8 L661.7,974.6 L664.1,976.5 L666.4,978.4 L668.7,980.4 L671.0,982.3 L673.3,984.2 L675.6,986.1 L677.8,988.1 L680.1,990.1 L682.3,992.1 L684.6,994.1 L686.8,996.1 L689.0,998.1 L691.1,1000.2 L693.3,1002.3 L695.4,1004.4 L697.6,1006.5 L699.7,1008.6 L701.8,1010.7 L703.8,1012.9 L705.9,1015.1 L707.9,1017.3 L710.0,1019.5 L712.0,1021.7 L714.0,1024.0 L715.9,1026.2 L717.9,1028.5 L719.8,1030.8 L721.7,1033.1 L723.6,1035.4 L725.5,1037.8 L727.4,1040.1 L729.2,1042.5 L731.0,1044.9 L732.8,1047.3 L734.6,1049.7 L736.4,1052.1 L738.1,1054.5 L739.9,1057.0 L741.6,1059.4 L743.3,1061.9 L745.0,1064.4 L746.6,1066.9 L748.2,1069.4 L749.9,1072.0 L751.5,1074.5 L753.0,1077.1 L754.6,1079.6 L756.1,1082.2 L757.7,1084.8 L759.2,1087.4 L760.7,1090.0 L762.2,1092.6 L763.7,1095.2 L765.2,1097.8 L766.7,1100.4 L768.1,1103.1 L769.6,1105.7 L771.1,1108.3 L772.6,1110.9 L774.0,1113.6 L775.5,1116.2 L777.0,1118.8 L778.5,1121.4 L780.0,1124.0 L781.5,1126.6 L783.0,1129.2 L784.5,1131.8 L786.0,1134.4 L787.6,1137.0 L789.1,1139.5 L790.7,1142.1 L792.3,1144.6 L793.9,1147.2 L795.6,1149.7 L797.2,1152.2 L798.9,1154.7 L800.6,1157.2 L802.3,1159.6 L804.1,1162.1 L805.9,1164.5 L807.7,1166.9 L809.5,1169.3 L811.4,1171.6 L813.3,1174.0 L815.2,1176.3 L817.1,1178.6 L819.1,1180.9 L821.1,1183.2 L823.1,1185.4 L825.1,1187.6 L827.2,1189.8 L829.3,1192.0 L831.4,1194.2 L833.5,1196.3 L835.6,1198.4 L837.8,1200.5 L840.0,1202.6 L842.2,1204.6 L844.4,1206.7 L846.7,1208.7 L849.0,1210.6 L851.2,1212.6 L853.5,1214.5 L855.9,1216.4 L858.2,1218.3 L860.6,1220.2 L862.9,1222.0 L865.3,1223.8 L867.7,1225.6 L870.2,1227.3 L872.6,1229.1 L875.1,1230.8 L877.5,1232.5 L880.0,1234.1 L882.5,1235.8 L885.0,1237.4 L887.5,1239.0 L890.0,1240.6 L892.6,1242.2 L895.1,1243.8 L897.6,1245.3 L900.2,1246.9 L902.8,1248.4 L905.3,1249.9 L907.9,1251.5 L910.5,1253.0 L913.1,1254.5 L915.6,1256.0 L918.2,1257.5 L920.8,1259.0 L923.4,1260.6 L926.0,1262.1 L928.6,1263.6 L931.2,1265.1 L933.8,1266.6 L936.4,1268.2 L939.0,1269.7 L941.6,1271.2 L944.1,1272.8 L946.7,1274.3 L949.3,1275.8 L951.9,1277.4 L954.5,1278.9 L957.1,1280.4 L959.7,1282.0 L962.3,1283.5 L964.9,1285.0 L967.5,1286.6 L970.1,1288.1 L972.7,1289.6 L975.3,1291.1 L978.0,1292.7 L980.6,1294.2 L983.2,1295.7 L985.8,1297.2 L988.4,1298.7 L991.1,1300.2 L993.7,1301.7 L996.3,1303.1 L998.9,1304.6 L1001.6,1306.1 L1004.2,1307.5 L1006.9,1309.0 L1009.5,1310.4 L1012.2,1311.9 L1014.8,1313.3 L1017.5,1314.7 L1020.1,1316.1 L1022.8,1317.5 L1025.5,1318.9 L1028.1,1320.3 L1030.8,1321.7 L1033.5,1323.0 L1036.2,1324.4 L1038.9,1325.7 L1041.6,1327.0 L1044.3,1328.3 L1047.0,1329.6 L1049.7,1330.9 L1052.4,1332.2 L1055.1,1333.4 L1057.9,1334.7 L1060.6,1335.9 L1063.3,1337.1 L1066.1,1338.3 L1068.8,1339.4 L1071.6,1340.6 L1074.4,1341.7 L1077.1,1342.9 L1079.9,1344.0 L1082.7,1345.1 L1085.5,1346.1 L1088.3,1347.2 L1091.1,1348.2 L1093.9,1349.2 L1096.7,1350.2 L1099.6,1351.2 L1102.4,1352.1 L1105.2,1353.1 L1108.1,1354.0 L1110.9,1354.9 L1113.8,1355.7 L1116.7,1356.6 L1119.6,1357.4 L1122.4,1358.3 L1125.3,1359.1 L1128.2,1359.8 L1131.1,1360.6 L1134.0,1361.4 L1136.9,1362.1 L1139.8,1362.8 L1142.8,1363.5 L1145.7,1364.2 L1148.6,1364.8 L1151.5,1365.5 L1154.5,1366.1 L1157.4,1366.7 L1160.4,1367.3 L1163.3,1367.9 L1166.3,1368.5 L1169.2,1369.0 L1172.2,1369.6 L1175.2,1370.1 L1178.1,1370.6 L1181.1,1371.1 L1184.1,1371.6 L1187.1,1372.0 L1190.1,1372.5 L1193.0,1372.9 L1196.0,1373.3 L1199.0,1373.7 L1202.0,1374.1 L1205.0,1374.5 L1208.0,1374.9 L1211.0,1375.2 L1214.0,1375.6 L1217.0,1375.9 L1220.0,1376.2 L1223.0,1376.5 L1226.0,1376.8 L1229.0,1377.1 L1232.0,1377.4 L1235.1,1377.7 L1238.1,1377.9 L1241.1,1378.2 L1244.1,1378.4 L1247.1,1378.6 L1250.1,1378.8 L1253.1,1379.0 L1256.1,1379.2 L1259.2,1379.4 L1262.2,1379.6 L1265.2,1379.7 L1268.2,1379.9 L1271.2,1380.0 L1274.2,1380.1 L1277.2,1380.3 L1280.2,1380.4 L1283.2,1380.5 L1286.2,1380.6 L1289.2,1380.7 L1292.2,1380.8 L1295.2,1380.9 L1298.2,1380.9 L1301.2,1381.0 L1304.2,1381.1 L1307.2,1381.1 L1310.2,1381.1 L1313.2,1381.2 L1316.2,1381.2 L1319.2,1381.2 L1322.1,1381.3 L1325.1,1381.3 L1328.1,1381.3 L1331.0,1381.3 L1334.0,1381.3 L1916.0,1381.3"/>
<path class="cv" stroke="#00ad68" d="M271.0,774.7 L271.4,771.7 L271.8,768.7 L272.2,765.6 L272.7,762.6 L273.1,759.6 L273.5,756.6 L273.9,753.5 L274.3,750.5 L274.7,747.5 L275.0,744.5 L275.4,741.4 L275.8,738.4 L276.2,735.4 L276.6,732.4 L277.0,729.3 L277.3,726.3 L277.7,723.3 L278.1,720.2 L278.4,717.2 L278.8,714.2 L279.2,711.1 L279.5,708.1 L279.9,705.1 L280.3,702.0 L280.6,699.0 L281.0,696.0 L281.3,693.0 L281.7,689.9 L282.1,686.9 L282.4,683.9 L282.8,680.8 L283.1,677.8 L283.5,674.8 L283.9,671.7 L284.2,668.7 L284.6,665.7 L284.9,662.6 L285.3,659.6 L285.6,656.6 L286.0,653.5 L286.4,650.5 L286.7,647.5 L287.1,644.4 L287.5,641.4 L287.8,638.4 L288.2,635.3 L288.6,632.3 L289.0,629.3 L289.3,626.3 L289.7,623.2 L290.1,620.2 L290.5,617.2 L290.8,614.1 L291.2,611.1 L291.6,608.1 L292.0,605.1 L292.4,602.0 L292.8,599.0 L293.2,596.0 L293.6,593.0 L294.0,589.9 L294.4,586.9 L294.9,583.9 L295.3,580.9 L295.7,577.8 L296.1,574.8 L296.6,571.8 L297.0,568.8 L297.4,565.8 L297.9,562.7 L298.3,559.7 L298.8,556.7 L299.3,553.7 L299.7,550.7 L300.2,547.7 L300.7,544.7 L301.2,541.6 L301.6,538.6 L302.1,535.6 L302.6,532.6 L303.2,529.6 L303.7,526.6 L304.2,523.6 L304.7,520.6 L305.2,517.6 L305.8,514.6 L306.3,511.6 L306.9,508.6 L307.4,505.6 L308.0,502.6 L312.3,492.6 L318.5,492.2 L319.2,495.1 L319.9,498.0 L320.5,500.9 L321.2,503.8 L321.8,506.7 L322.5,509.7 L323.1,512.6 L323.7,515.5 L324.3,518.4 L324.9,521.4 L325.5,524.3 L326.1,527.3 L326.7,530.2 L327.3,533.2 L327.9,536.1 L328.4,539.1 L329.0,542.0 L329.5,545.0 L330.0,547.9 L330.6,550.9 L331.1,553.9 L331.6,556.8 L332.1,559.8 L332.6,562.8 L333.1,565.8 L333.6,568.7 L334.1,571.7 L334.6,574.7 L335.1,577.7 L335.6,580.7 L336.0,583.6 L336.5,586.6 L336.9,589.6 L337.4,592.6 L337.8,595.6 L338.3,598.6 L338.7,601.6 L339.2,604.6 L339.6,607.6 L340.0,610.5 L340.4,613.5 L340.9,616.5 L341.3,619.5 L341.7,622.5 L342.1,625.5 L342.5,628.5 L342.9,631.5 L343.3,634.5 L343.7,637.5 L344.1,640.5 L344.5,643.4 L344.9,646.4 L345.3,649.4 L345.6,652.4 L346.0,655.4 L346.4,658.4 L346.8,661.4 L347.2,664.3 L347.5,667.3 L347.9,670.3 L348.3,673.3 L348.7,676.2 L349.0,679.2 L349.4,682.2 L349.8,685.2 L350.1,688.1 L350.5,691.1 L350.9,694.0 L351.3,697.0 L351.6,700.0 L352.0,702.9 L352.4,705.9 L352.8,708.8 L353.2,711.8 L353.5,714.7 L353.9,717.7 L354.3,720.6 L354.7,723.6 L355.1,726.5 L355.5,729.5 L356.0,732.4 L356.4,735.3 L356.8,738.3 L357.2,741.2 L357.7,744.2 L358.1,747.1 L358.6,750.0 L359.1,753.0 L359.5,755.9 L360.0,758.9 L360.5,761.8 L361.0,764.7 L361.5,767.7 L362.1,770.6 L362.6,773.5 L363.1,776.5 L363.7,779.4 L364.3,782.3 L364.9,785.3 L365.5,788.2 L366.1,791.2 L366.7,794.1 L367.3,797.0 L368.0,800.0 L368.7,802.9 L369.3,805.9 L370.0,808.8 L370.8,811.8 L371.5,814.7 L372.2,817.6 L373.0,820.6 L373.8,823.5 L374.6,826.5 L375.4,829.4 L376.3,832.4 L377.1,835.4 L378.0,838.3 L378.9,841.3 L379.8,844.2 L380.8,847.2 L381.7,850.2 L382.7,853.1 L383.7,856.1 L384.8,859.1 L385.8,862.0 L386.9,865.0 L388.0,867.9 L389.2,870.8 L390.5,873.5 L391.9,876.2 L393.3,878.7 L394.9,881.1 L396.6,883.3 L398.4,885.3 L400.4,887.1 L402.6,888.7 L405.0,890.0 L407.5,891.0 L410.2,891.7 L413.1,892.2 L416.0,892.3 L419.0,892.2 L422.0,891.8 L424.9,891.2 L427.8,890.3 L430.5,889.1 L433.1,887.7 L435.6,886.0 L437.9,884.2 L440.1,882.2 L442.3,880.0 L444.4,877.8 L446.4,875.4 L448.3,872.9 L450.2,870.4 L452.1,867.8 L454.0,865.3 L455.8,862.7 L457.7,860.2 L459.5,857.7 L461.4,855.3 L463.4,853.0 L465.3,850.7 L467.2,848.4 L469.2,846.2 L471.1,844.0 L473.1,841.8 L475.0,839.6 L477.0,837.5 L478.9,835.3 L480.9,833.1 L482.8,830.9 L484.7,828.7 L486.6,826.5 L488.5,824.2 L490.3,821.9 L492.2,819.5 L494.1,817.2 L496.0,814.9 L498.0,812.5 L500.0,810.3 L502.2,808.0 L504.4,805.8 L506.8,803.7 L509.3,801.6 L511.9,799.7 L514.6,797.9 L517.4,796.3 L520.2,795.0 L523.0,794.0 L525.8,793.4 L528.7,793.1 L531.4,793.2 L534.2,793.6 L536.9,794.3 L539.5,795.4 L542.1,796.6 L544.6,798.1 L547.1,799.8 L549.5,801.7 L551.8,803.6 L554.0,805.7 L556.2,807.8 L558.3,810.0 L560.2,812.3 L562.1,814.6 L564.0,816.9 L565.7,819.3 L567.4,821.8 L569.0,824.3 L570.5,826.8 L572.0,829.4 L573.4,832.0 L574.8,834.6 L576.1,837.3 L577.4,840.0 L578.6,842.8 L579.7,845.5 L580.8,848.3 L581.9,851.2 L582.9,854.0 L583.9,856.9 L584.9,859.8 L585.9,862.7 L586.8,865.6 L587.7,868.5 L588.5,871.4 L589.4,874.4 L590.2,877.3 L591.0,880.3 L591.8,883.2 L592.6,886.1 L593.4,889.1 L594.2,892.0 L595.0,894.9 L595.8,897.9 L596.6,900.8 L597.3,903.7 L598.1,906.6 L598.9,909.5 L599.7,912.4 L600.5,915.3 L601.3,918.2 L602.1,921.1 L602.9,923.9 L603.7,926.8 L604.5,929.7 L605.4,932.5 L606.2,935.4 L607.1,938.3 L607.9,941.1 L608.8,943.9 L609.7,946.8 L610.5,949.6 L611.4,952.5 L612.4,955.3 L613.3,958.1 L614.2,960.9 L615.2,963.7 L616.2,966.6 L617.2,969.4 L618.2,972.2 L619.2,975.0 L620.3,977.8 L621.4,980.6 L622.5,983.4 L623.6,986.1 L624.7,988.9 L625.9,991.7 L627.1,994.5 L628.3,997.3 L629.5,1000.0 L630.8,1002.8 L632.1,1005.6 L633.4,1008.3 L634.7,1011.1 L636.1,1013.8 L637.5,1016.6 L639.0,1019.3 L640.5,1021.9 L642.2,1024.4 L643.9,1026.8 L645.7,1029.1 L647.6,1031.2 L649.7,1033.2 L651.9,1034.9 L654.2,1036.5 L656.7,1037.9 L659.2,1039.2 L661.8,1040.3 L664.6,1041.3 L667.3,1042.2 L670.2,1043.0 L673.1,1043.7 L676.1,1044.4 L679.1,1044.9 L682.2,1045.4 L685.3,1045.9 L688.4,1046.3 L691.5,1046.7 L694.6,1047.1 L697.7,1047.4 L700.7,1047.8 L703.8,1048.2 L706.9,1048.6 L709.9,1048.9 L713.0,1049.3 L716.0,1049.7 L719.1,1050.1 L722.1,1050.4 L725.1,1050.8 L728.1,1051.2 L731.1,1051.6 L734.1,1052.0 L737.1,1052.4 L740.1,1052.8 L743.1,1053.2 L746.1,1053.6 L749.0,1054.1 L752.0,1054.5 L755.0,1055.0 L757.9,1055.4 L760.9,1055.9 L763.8,1056.4 L766.7,1056.9 L769.7,1057.4 L772.6,1057.9 L775.5,1058.5 L778.4,1059.0 L781.3,1059.6 L784.2,1060.2 L787.1,1060.8 L790.0,1061.5 L792.9,1062.1 L795.8,1062.8 L798.7,1063.5 L801.6,1064.2 L804.5,1064.9 L807.3,1065.7 L810.2,1066.5 L813.1,1067.3 L815.9,1068.1 L818.8,1069.0 L821.7,1069.8 L824.5,1070.8 L827.4,1071.7 L830.2,1072.7 L833.1,1073.7 L835.9,1074.7 L838.8,1075.8 L841.6,1076.9 L844.4,1078.0 L847.2,1079.2 L849.9,1080.5 L852.6,1081.8 L855.3,1083.2 L858.0,1084.6 L860.6,1086.1 L863.2,1087.6 L865.7,1089.3 L868.2,1091.0 L870.6,1092.8 L873.0,1094.6 L875.3,1096.4 L877.7,1098.3 L880.1,1100.1 L882.5,1101.9 L885.0,1103.5 L887.5,1105.1 L890.1,1106.6 L892.7,1108.1 L895.4,1109.5 L898.0,1110.8 L900.7,1112.2 L903.4,1113.6 L906.1,1114.9 L908.8,1116.4 L911.4,1117.9 L914.0,1119.5 L916.5,1121.2 L918.9,1123.0 L921.3,1124.9 L923.6,1126.8 L925.9,1128.8 L928.1,1130.9 L930.2,1133.0 L932.2,1135.1 L934.2,1137.3 L936.1,1139.6 L938.0,1141.9 L939.9,1144.2 L941.7,1146.6 L943.4,1149.0 L945.1,1151.5 L946.8,1153.9 L948.4,1156.5 L950.0,1159.0 L951.5,1161.6 L953.1,1164.2 L954.6,1166.8 L956.0,1169.4 L957.5,1172.0 L958.9,1174.7 L960.4,1177.4 L961.8,1180.0 L963.2,1182.7 L964.6,1185.4 L966.0,1188.1 L967.4,1190.8 L968.8,1193.5 L970.2,1196.1 L971.6,1198.8 L973.1,1201.5 L974.5,1204.1 L976.0,1206.7 L977.4,1209.3 L978.9,1211.9 L980.5,1214.5 L982.0,1217.0 L983.6,1219.6 L985.2,1222.1 L986.8,1224.6 L988.4,1227.0 L990.1,1229.5 L991.8,1232.0 L993.5,1234.4 L995.3,1236.9 L997.0,1239.3 L998.8,1241.8 L1000.6,1244.3 L1002.4,1246.7 L1004.3,1249.2 L1006.2,1251.6 L1008.2,1253.9 L1010.3,1256.0 L1012.5,1258.1 L1014.7,1260.0 L1017.1,1261.8 L1019.5,1263.5 L1022.0,1265.1 L1024.5,1266.6 L1027.1,1267.9 L1029.8,1269.3 L1032.4,1270.5 L1035.2,1271.7 L1037.9,1272.8 L1040.7,1273.9 L1043.5,1274.9 L1046.3,1275.9 L1049.2,1276.9 L1052.0,1277.8 L1054.9,1278.7 L1057.8,1279.5 L1060.7,1280.4 L1063.6,1281.2 L1066.5,1282.0 L1069.5,1282.8 L1072.4,1283.6 L1075.3,1284.4 L1078.2,1285.2 L1081.2,1286.1 L1084.1,1286.9 L1087.0,1287.8 L1089.9,1288.7 L1092.7,1289.6 L1095.6,1290.6 L1098.4,1291.6 L1101.2,1292.6 L1104.0,1293.7 L1106.8,1294.8 L1109.6,1295.9 L1112.4,1297.0 L1115.1,1298.2 L1117.9,1299.4 L1120.6,1300.6 L1123.3,1301.9 L1126.0,1303.1 L1128.7,1304.4 L1131.4,1305.7 L1134.1,1307.0 L1136.9,1308.3 L1139.6,1309.6 L1142.3,1310.9 L1145.0,1312.2 L1147.7,1313.5 L1150.4,1314.8 L1153.1,1316.1 L1155.8,1317.4 L1158.5,1318.7 L1161.2,1320.0 L1163.9,1321.3 L1166.7,1322.6 L1169.4,1323.9 L1172.1,1325.2 L1174.9,1326.4 L1177.6,1327.7 L1180.3,1329.0 L1183.1,1330.2 L1185.8,1331.5 L1188.6,1332.7 L1191.3,1333.9 L1194.1,1335.1 L1196.8,1336.3 L1199.6,1337.5 L1202.4,1338.7 L1205.1,1339.9 L1207.9,1341.0 L1210.7,1342.2 L1213.5,1343.3 L1216.3,1344.4 L1219.1,1345.5 L1221.9,1346.5 L1224.7,1347.6 L1227.5,1348.6 L1230.3,1349.6 L1233.2,1350.6 L1236.0,1351.6 L1238.9,1352.5 L1241.7,1353.4 L1244.6,1354.3 L1247.4,1355.2 L1250.3,1356.1 L1253.2,1356.9 L1256.1,1357.7 L1259.0,1358.5 L1261.8,1359.2 L1264.8,1360.0 L1267.7,1360.7 L1270.6,1361.4 L1273.5,1362.1 L1276.4,1362.8 L1279.3,1363.4 L1282.3,1364.0 L1285.2,1364.6 L1288.2,1365.2 L1291.1,1365.8 L1294.1,1366.3 L1297.0,1366.9 L1300.0,1367.4 L1302.9,1367.9 L1305.9,1368.4 L1308.9,1368.9 L1311.9,1369.3 L1314.8,1369.8 L1317.8,1370.2 L1320.8,1370.6 L1323.8,1371.0 L1326.8,1371.4 L1329.8,1371.8 L1332.7,1372.1 L1335.7,1372.5 L1338.7,1372.8 L1341.7,1373.2 L1344.7,1373.5 L1347.7,1373.8 L1350.7,1374.1 L1353.7,1374.4 L1356.7,1374.7 L1359.7,1374.9 L1362.7,1375.2 L1365.7,1375.4 L1368.7,1375.7 L1371.7,1375.9 L1374.7,1376.2 L1377.7,1376.4 L1380.8,1376.6 L1383.8,1376.8 L1386.8,1377.0 L1389.8,1377.2 L1392.8,1377.4 L1395.8,1377.6 L1398.8,1377.8 L1401.8,1377.9 L1404.8,1378.1 L1407.8,1378.2 L1410.8,1378.4 L1413.8,1378.5 L1416.8,1378.7 L1419.8,1378.8 L1422.8,1379.0 L1425.8,1379.1 L1428.8,1379.2 L1431.8,1379.3 L1434.8,1379.4 L1437.8,1379.5 L1440.8,1379.6 L1443.8,1379.7 L1446.8,1379.8 L1449.8,1379.9 L1452.8,1380.0 L1455.8,1380.1 L1458.8,1380.1 L1461.8,1380.2 L1464.8,1380.3 L1467.8,1380.3 L1470.8,1380.4 L1473.8,1380.5 L1476.8,1380.5 L1479.8,1380.6 L1482.8,1380.6 L1485.8,1380.6 L1488.8,1380.7 L1491.8,1380.7 L1494.8,1380.8 L1497.8,1380.8 L1500.8,1380.8 L1503.8,1380.9 L1506.8,1380.9 L1509.8,1380.9 L1512.8,1380.9 L1515.8,1380.9 L1518.8,1381.0 L1521.8,1381.0 L1524.8,1381.0 L1527.8,1381.0 L1530.8,1381.0 L1533.8,1381.0 L1536.8,1381.0 L1539.8,1381.0 L1542.8,1381.1 L1545.8,1381.1 L1548.8,1381.1 L1551.8,1381.1 L1554.8,1381.1 L1557.8,1381.1 L1560.9,1381.1 L1563.9,1381.1 L1566.9,1381.1 L1569.9,1381.1 L1572.9,1381.1 L1575.9,1381.1 L1578.9,1381.1 L1581.9,1381.1 L1584.9,1381.1 L1587.9,1381.2 L1591.0,1381.2 L1594.0,1381.2 L1597.0,1381.2 L1600.0,1381.2 L1916.0,1381.2"/>
</g>
<text class="tk" x="227.2" y="1402.6" text-anchor="end">0</text>
<text class="tk" x="227.2" y="1076.6" text-anchor="end">2</text>
<text class="tk" x="227.2" y="750.6" text-anchor="end">4</text>
<text class="tk" x="227.2" y="424.6" text-anchor="end">6</text>
<text class="tk" x="227.2" y="98.6" text-anchor="end">8</text>
<text class="tk" x="434.8" y="1477.8" text-anchor="middle">250</text>
<text class="tk" x="763.3" y="1477.8" text-anchor="middle">300</text>
<text class="tk" x="1091.8" y="1477.8" text-anchor="middle">350</text>
<text class="tk" x="1420.3" y="1477.8" text-anchor="middle">400</text>
<text class="tk" x="1748.8" y="1477.8" text-anchor="middle">450</text>
<line x1="1534" y1="193.9" x2="1689" y2="193.9" stroke="#757575" stroke-width="10" stroke-linecap="round"/>
<text class="lg" transform="translate(1707.5,217.5) scale(1,1.045)">C</text>
<g transform="translate(1759.97,217.50) scale(1,1.045)"><text class="lg" x="0" y="0" clip-path="url(#oneB)">1</text></g>
<line x1="1534" y1="279.4" x2="1689" y2="279.4" stroke="#ff4040" stroke-width="10" stroke-linecap="round"/>
<text class="lg" transform="translate(1707.5,303.0) scale(1,1.045)">C2</text>
<line x1="1534" y1="364.9" x2="1689" y2="364.9" stroke="#006fe5" stroke-width="10" stroke-linecap="round"/>
<text class="lg" transform="translate(1707.5,388.5) scale(1,1.045)">C3</text>
<line x1="1534" y1="450.4" x2="1689" y2="450.4" stroke="#00ad68" stroke-width="10" stroke-linecap="round"/>
<text class="lg" transform="translate(1707.5,474.0) scale(1,1.045)">C4</text>
<text class="sy" transform="translate(979.2,1608.9) scale(1.125,1)" style="font-size:84.8px">λ</text>
<text class="ti" x="1047.3" y="1608.9">/</text>
<text class="ti" x="1092.2" y="1608.9">nm</text>
<g transform="translate(108.9,0) rotate(-90)">
<text class="sy" transform="translate(-948.4,0.6) scale(1.09,1)" style="font-size:85.3px">ε</text>
<text class="ti" x="-889.8" y="0" >/</text>
<g transform="translate(-844.60,0.00)"><text class="ti" x="0" y="0" clip-path="url(#oneR)">1</text></g>
<text class="ti" x="-799.6" y="0" >0</text>
<text class="su" x="-757.3" y="-33.2" >4</text>
<text class="ti" x="-704.3" y="0" >M</text>
<text class="su" transform="translate(-639.3,-28.8) scale(1.095,0.94)">−</text>
<g transform="translate(-606.20,-33.20)"><text class="su" x="0" y="0" clip-path="url(#oneS)">1</text></g>
<text class="ti" x="-576.7" y="0" >cm</text>
<text class="su" transform="translate(-471.6,-28.8) scale(1.095,0.94)">−</text>
<g transform="translate(-437.60,-33.20)"><text class="su" x="0" y="0" clip-path="url(#oneS)">1</text></g>
</g>
</svg></body></html>
